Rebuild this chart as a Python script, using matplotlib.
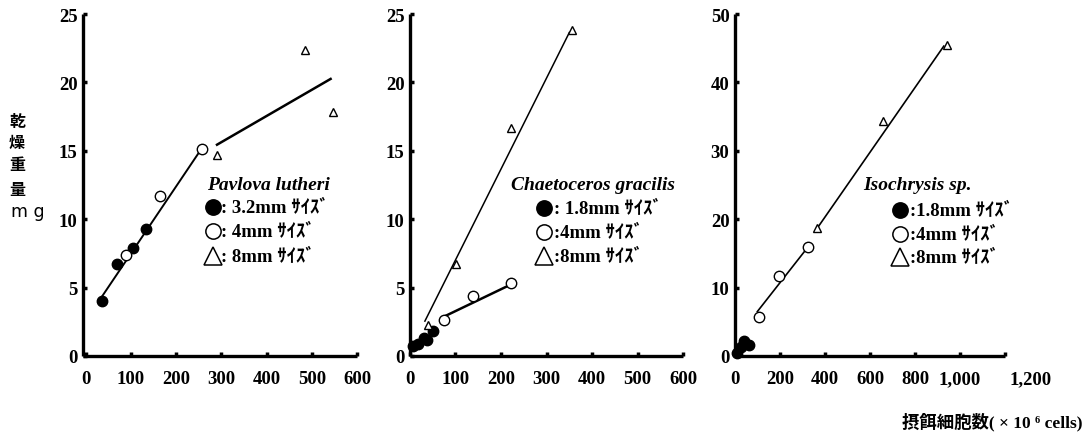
import matplotlib
matplotlib.use("Agg")
import matplotlib.pyplot as plt
from matplotlib.lines import Line2D
import matplotlib.transforms as mtransforms

W, H = 1085, 435

# ---------------- data ----------------
# Panel 1: Pavlova lutheri
p1_filled_x = [35, 69, 105, 133]
p1_filled_y = [4.0, 6.7, 7.9, 9.3]
p1_open_x = [88, 165, 258]
p1_open_y = [7.4, 11.7, 15.1]
p1_tri_x = [290, 485, 548]
p1_tri_y = [14.7, 22.4, 17.8]
p1_fit1_x = [35, 253]
p1_fit1_y = [4.3, 15.0]
p1_fit2_x = [288, 544]
p1_fit2_y = [15.4, 20.3]

# Panel 2: Chaetoceros gracilis
p2_filled_x = [7, 18, 30, 38, 50]
p2_filled_y = [0.7, 0.85, 1.35, 1.15, 1.85]
p2_open_x = [74, 138, 222]
p2_open_y = [2.65, 4.4, 5.3]
p2_tri_x = [40, 102, 223, 357]
p2_tri_y = [2.3, 6.7, 16.7, 23.8]
p2_fit1_x = [76, 220]
p2_fit1_y = [2.9, 5.2]
p2_fit2_x = [32, 351]
p2_fit2_y = [2.5, 23.7]

# Panel 3: Isochrysis sp.
p3_filled_x = [8, 25, 40, 60]
p3_filled_y = [0.5, 1.3, 2.2, 1.6]
p3_open_x = [105, 196, 324]
p3_open_y = [5.75, 11.7, 15.9]
p3_tri_x = [366, 656, 941]
p3_tri_y = [18.7, 34.3, 45.5]
p3_fit1_x = [97, 314]
p3_fit1_y = [6.4, 15.5]
p3_fit2_x = [370, 930]
p3_fit2_y = [18.9, 45.4]

titles = ["Pavlova lutheri", "Chaetoceros gracilis", "Isochrysis sp."]
legend_labels = [
    [": 3.2mm ｻｲｽﾞ", ": 4mm ｻｲｽﾞ", ": 8mm ｻｲｽﾞ"],
    [": 1.8mm ｻｲｽﾞ", ":4mm ｻｲｽﾞ", ":8mm ｻｲｽﾞ"],
    [":1.8mm ｻｲｽﾞ", ":4mm ｻｲｽﾞ", ":8mm ｻｲｽﾞ"],
]
x_ticks = [[0, 100, 200, 300, 400, 500, 600],
           [0, 100, 200, 300, 400, 500, 600],
           [0, 200, 400, 600, 800, 1000, 1200]]
x_ticklabels = [["0", "100", "200", "300", "400", "500", "600"],
                ["0", "100", "200", "300", "400", "500", "600"],
                ["0", "200", "400", "600", "800", "1,000", "1,200"]]
y_ticks = [[0, 5, 10, 15, 20, 25], [0, 5, 10, 15, 20, 25], [0, 10, 20, 30, 40, 50]]
y_label_chars = ["乾", "燥", "重", "量"]
y_unit = "m g"
x_label = "摂餌細胞数( × 10 ⁶ cells)"

# ---------------- layout ----------------
serif = ["Liberation Serif", "DejaVu Serif"]
mixed = ["Liberation Serif", "Noto Sans CJK JP", "DejaVu Sans"]

fig = plt.figure(figsize=(W / 100, H / 100), dpi=100)

def fx(x):
    return x / W

def fy(y):
    return 1 - y / H

# axes rectangles in pixels: left, right, top, bottom
rects = [(83, 357, 15, 357), (410, 683, 15, 357), (735, 1005, 15, 357)]
xlims = [(-6, 600), (0, 600), (0, 1200)]
ylims = [(0, 25), (0, 25), (0, 50)]

panels = [
    (p1_filled_x, p1_filled_y, p1_open_x, p1_open_y, p1_tri_x, p1_tri_y,
     [(p1_fit1_x, p1_fit1_y, 1.4), (p1_fit2_x, p1_fit2_y, 1.8)]),
    (p2_filled_x, p2_filled_y, p2_open_x, p2_open_y, p2_tri_x, p2_tri_y,
     [(p2_fit1_x, p2_fit1_y, 1.8), (p2_fit2_x, p2_fit2_y, 1.1)]),
    (p3_filled_x, p3_filled_y, p3_open_x, p3_open_y, p3_tri_x, p3_tri_y,
     [(p3_fit1_x, p3_fit1_y, 1.2), (p3_fit2_x, p3_fit2_y, 1.2)]),
]

# legend anchor positions (pixels)
leg_pos = [
    dict(tx=207, ty=185, mx=213, my=[208, 232, 257], lx=221),
    dict(tx=511, ty=186, mx=544, my=[209, 233, 257], lx=554),
    dict(tx=863, ty=186, mx=900, my=[211, 235, 258], lx=910),
]

for i, (l, r, t, b) in enumerate(rects):
    ax = fig.add_axes([fx(l), fy(b), (r - l) / W, (b - t) / H])
    fx_, fy_, ox, oy, tx, ty, fits = panels[i]
    for (lx_, ly_, lw) in fits:
        ax.plot(lx_, ly_, color="black", lw=lw, solid_capstyle="butt", zorder=2)
    ax.plot(fx_, fy_, "o", ms=7.5, mfc="black", mec="black", zorder=3, clip_on=False)
    ax.plot(ox, oy, "o", ms=7.5, mfc="white", mec="black", mew=1.0, zorder=3, clip_on=False)
    ax.plot(tx, ty, "^", ms=6, mfc="white", mec="black", mew=1.0, zorder=3, clip_on=False)

    ax.set_xlim(*xlims[i])
    ax.set_ylim(*ylims[i])
    ax.set_xticks(x_ticks[i])
    ax.set_xticklabels(x_ticklabels[i])
    ax.set_yticks(y_ticks[i])
    for s in ["top", "right"]:
        ax.spines[s].set_visible(False)
    for s in ["left", "bottom"]:
        ax.spines[s].set_linewidth(2.4)
        ax.spines[s].set_capstyle("butt")
    ax.tick_params(axis="both", direction="in", length=3, width=2.5, color="black")
    ax.tick_params(axis="x", pad=10)
    ax.tick_params(axis="y", pad=4)
    for lab in ax.get_xticklabels() + ax.get_yticklabels():
        lab.set_fontfamily(serif)
        lab.set_fontweight("bold")
        lab.set_fontsize(13.5)
    if i == 2:
        # last label sits to the right of its tick in the original
        last = ax.get_xticklabels()[-1]
        last.set_transform(last.get_transform() +
                           mtransforms.ScaledTranslation(0.26, 0, fig.dpi_scale_trans))
    ax.patch.set_alpha(0)

    # legend block
    lp = leg_pos[i]
    fig.text(fx(lp["tx"]), fy(lp["ty"]), titles[i], family=serif, style="italic",
             weight="bold", fontsize=14, ha="left", va="center")
    markers = [("o", "black", 11), ("o", "white", 11), ("^", "white", 13.5)]
    for k, (m, fc, ms) in enumerate(markers):
        fig.add_artist(Line2D([fx(lp["mx"])], [fy(lp["my"][k])], marker=m, ms=ms,
                              mfc=fc, mec="black", mew=1.1, linestyle="none",
                              transform=fig.transFigure))
        fig.text(fx(lp["lx"]), fy(lp["my"][k]), legend_labels[i][k], family=mixed,
                 weight="bold", fontsize=13.5, ha="left", va="center")

# y label (vertical characters)
for k, ch in enumerate(y_label_chars):
    fig.text(fx(17), fy([122, 143, 165, 190][k]), ch,
             family=["Noto Sans CJK JP", "DejaVu Sans"],
             weight="bold", fontsize=11.5, ha="center", va="center")
fig.text(fx(28), fy(212), y_unit, family=["DejaVu Sans"], fontsize=12.5,
         ha="center", va="center")

# x label
fig.text(fx(1083), fy(422), x_label,
         family=["Liberation Serif", "Noto Sans CJK JP", "DejaVu Sans"],
         weight="bold", fontsize=12.5, ha="right", va="center")

fig.savefig("out.png", dpi=100)
